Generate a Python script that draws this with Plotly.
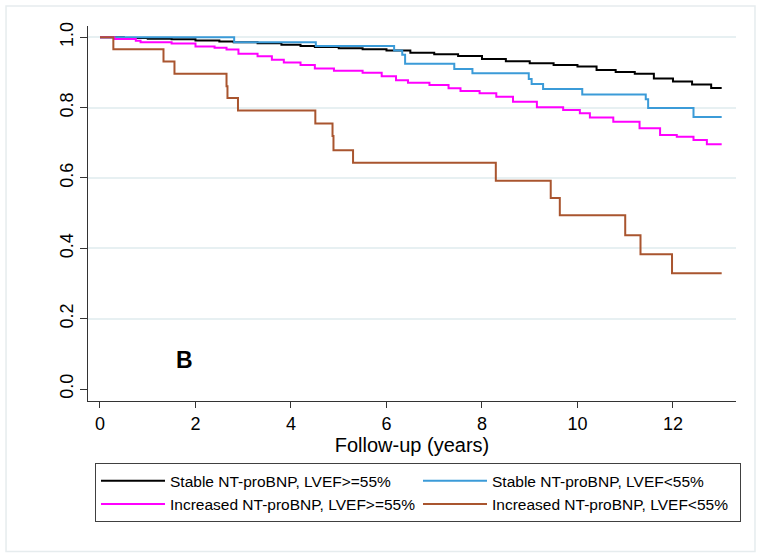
import plotly.graph_objects as go

# Stable NT-proBNP, LVEF>=55%
t_stable_pres = [0, 0.5, 1.0, 1.5, 2.0, 2.5, 2.8, 3.3, 3.8, 4.2, 4.5, 5.0, 5.5, 6.0, 6.5, 7.0, 7.5,
                 8.0, 8.5, 9.0, 9.5, 10.0, 10.4, 10.8, 11.2, 11.6, 12.0, 12.4, 12.8, 13.02]
s_stable_pres = [1.0, 0.998, 0.996, 0.994, 0.991, 0.988, 0.986, 0.983, 0.979, 0.975, 0.972, 0.969, 0.966,
                 0.962, 0.956, 0.952, 0.947, 0.938, 0.932, 0.926, 0.921, 0.917, 0.907, 0.901, 0.896,
                 0.883, 0.874, 0.866, 0.856, 0.856]

# Stable NT-proBNP, LVEF<55%
t_stable_red = [0, 2.81, 4.52, 6.16, 6.33, 6.39, 7.42, 7.80, 8.98, 9.04, 9.28, 10.10, 11.43, 11.48, 12.43, 13.02]
s_stable_red = [1.0, 0.986, 0.975, 0.962, 0.950, 0.925, 0.910, 0.898, 0.881, 0.867, 0.853, 0.837, 0.824,
                0.799, 0.773, 0.773]

# Increased NT-proBNP, LVEF>=55%
t_inc_pres = [0, 0.3, 0.75, 0.85, 1.5, 2.0, 2.4, 2.65, 2.9, 3.3, 3.6, 3.85, 4.2, 4.5, 4.9, 5.5, 5.9, 6.2,
              6.45, 6.9, 7.3, 7.55, 7.95, 8.3, 8.65, 9.15, 9.7, 10.05, 10.26, 10.75, 11.3, 11.73, 12.08,
              12.43, 12.71, 13.02]
s_inc_pres = [1.0, 0.995, 0.990, 0.986, 0.982, 0.974, 0.970, 0.965, 0.953, 0.946, 0.936, 0.928, 0.921,
              0.911, 0.905, 0.899, 0.889, 0.878, 0.871, 0.864, 0.855, 0.847, 0.841, 0.831, 0.817, 0.801,
              0.793, 0.784, 0.772, 0.760, 0.741, 0.722, 0.717, 0.708, 0.696, 0.696]

# Increased NT-proBNP, LVEF<55%
t_inc_red = [0, 0.28, 1.33, 1.56, 2.65, 2.67, 2.89, 4.51, 4.87, 4.89, 5.30, 8.29, 9.44, 9.63, 11.00,
             11.32, 11.98, 13.02]
s_inc_red = [1.0, 0.966, 0.931, 0.896, 0.861, 0.827, 0.792, 0.755, 0.719, 0.679, 0.643, 0.592, 0.543,
             0.494, 0.437, 0.383, 0.329, 0.329]

names = ["Stable NT-proBNP, LVEF>=55%", "Stable NT-proBNP, LVEF<55%",
         "Increased NT-proBNP, LVEF>=55%", "Increased NT-proBNP, LVEF<55%"]
colors = ["#000000", "#3b9bd8", "#ff00ff", "#a9552f"]

x_ticks = [0, 2, 4, 6, 8, 10, 12]
y_ticks = [0.0, 0.2, 0.4, 0.6, 0.8, 1.0]
grid_ticks = [0.2, 0.4, 0.6, 0.8, 1.0]

FONT = "Liberation Sans, Arial, sans-serif"

fig = go.Figure()
series = [(t_stable_pres, s_stable_pres), (t_stable_red, s_stable_red),
          (t_inc_pres, s_inc_pres), (t_inc_red, s_inc_red)]
for (t, s), name, col in zip(series, names, colors):
    fig.add_trace(go.Scatter(x=t, y=s, mode="lines", name=name,
                             line=dict(color=col, width=2, shape="hv")))

# invisible trace on overlay axis to carry grid lines
fig.add_trace(go.Scatter(x=[0], y=[0], yaxis="y2", mode="markers",
                         marker=dict(opacity=0), showlegend=False, hoverinfo="skip"))

fig.update_layout(
    width=762, height=558,
    margin=dict(l=88, r=26, t=26, b=157),
    paper_bgcolor="white", plot_bgcolor="white",
    font=dict(family=FONT, size=18, color="#000000"),
    xaxis=dict(range=[-0.251, 13.32], tickvals=x_ticks, ticks="outside", ticklen=6,
               tickcolor="#333", showline=True, linecolor="#333", linewidth=1,
               showgrid=False, zeroline=False,
               title=dict(text="Follow-up (years)", font=dict(size=20), standoff=2),
               tickfont=dict(size=18)),
    yaxis=dict(range=[-0.034, 1.032], tickvals=y_ticks, tickformat=".1f", ticks="outside",
               ticklen=7, tickcolor="#333", showline=True, linecolor="#333", linewidth=1,
               showgrid=False, zeroline=False, tickangle=-90, tickfont=dict(size=18)),
    yaxis2=dict(range=[-0.034, 1.032], overlaying="y", tickvals=grid_ticks, showgrid=True,
                gridcolor="#e7f0f2", gridwidth=1.5, showticklabels=False, zeroline=False,
                showline=False, layer="below traces"),
    legend=dict(orientation="h", x=0.0108, y=-0.166, xanchor="left", yanchor="top",
                bordercolor="#404040", borderwidth=1, bgcolor="white",
                font=dict(size=15.5), entrywidth=243, entrywidthmode="pixels",
                itemwidth=64, tracegroupgap=0),
    annotations=[dict(x=1.76, y=0.082, xref="x", yref="y", text="<b>B</b>", showarrow=False,
                      font=dict(size=23, family=FONT))],
    shapes=[dict(type="rect", xref="paper", yref="paper", x0=-0.1265, x1=1.0293, y0=-0.401, y1=1.0534,
                 line=dict(color="#e6ecee", width=1.5), fillcolor="rgba(0,0,0,0)", layer="below")],
    showlegend=True,
)

fig.write_html("out.html", config={"displayModeBar": False},
               post_script="document.body.style.margin='0';")
